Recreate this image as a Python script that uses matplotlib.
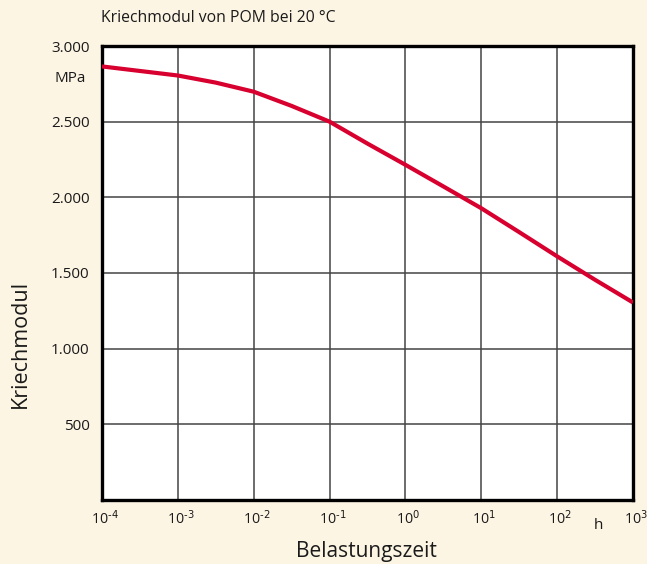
import numpy as np
import matplotlib
matplotlib.use("Agg")
import matplotlib.pyplot as plt
from matplotlib.transforms import ScaledTranslation

# creep modulus of POM at 20 C
zeit_exp = [-4, -3.5, -3, -2.5, -2, -1.5, -1, -0.5, 0, 0.5, 1, 1.5, 2, 2.5, 3]
modul = [2865, 2835, 2805, 2758, 2698, 2604, 2500, 2355, 2215, 2072, 1928, 1770, 1610, 1455, 1305]
x_ticks = [-4, -3, -2, -1, 0, 1, 2, 3]
y_ticks = [500, 1000, 1500, 2000, 2500, 3000]
y_labels = ["500", "1.000", "1.500", "2.000", "2.500", "3.000"]

plt.rcParams['font.family'] = ['Open Sans', 'DejaVu Sans']
plt.rcParams['mathtext.default'] = 'regular'

bg = '#fdf5e4'
txt = '#1a1a1a'
fig = plt.figure(figsize=(6.47, 5.64), dpi=100, facecolor=bg)
ax = fig.add_axes([102/647, 64/564, 531/647, 454/564])
ax.set_facecolor('white')

t = 10.0 ** np.array(zeit_exp)
ax.plot(t, modul, color='#d7002f', lw=3, solid_capstyle='butt',
        solid_joinstyle='round', zorder=3)

ax.set_xscale('log')
ax.set_xlim(1e-4, 1e3)
ax.set_ylim(0, 3000)
ax.set_xticks([10.0 ** e for e in x_ticks])
ax.set_xticklabels([r'$10^{\text{%d}}$' % e for e in x_ticks])
ax.minorticks_off()
ax.set_yticks(y_ticks)
ax.set_yticklabels(y_labels)
ax.tick_params(length=0, labelsize=11, colors=txt)
ax.tick_params(axis='x', pad=7, labelsize=10.3)
ax.tick_params(axis='y', pad=9)
# the "10" sits on the grid line, the exponent hangs to the right
shift = ScaledTranslation(3/100, 0, fig.dpi_scale_trans)
for lab in ax.get_xticklabels():
    lab.set_transform(lab.get_transform() + shift)
ax.grid(True, color='#444444', lw=1.1)
for s in ax.spines.values():
    s.set_linewidth(2.4)
    s.set_color('black')

fig.text(101/647, 1 - 18/564, 'Kriechmodul von POM bei 20 °C', fontsize=11.3, va='center', ha='left', color=txt)
fig.text(86/647, 1 - 79/564, 'MPa', fontsize=11, va='center', ha='right', color=txt)
fig.text(598/647, 1 - 529/564, 'h', fontsize=11, va='baseline', ha='center', color=txt)
fig.text(20/647, 1 - 344/564, 'Kriechmodul', fontsize=15.5, rotation=90, va='center', ha='center', color=txt)
fig.text(366/647, 1 - 557.5/564, 'Belastungszeit', fontsize=15, va='baseline', ha='center', color=txt)

fig.savefig('out.png', dpi=100, facecolor=bg)
